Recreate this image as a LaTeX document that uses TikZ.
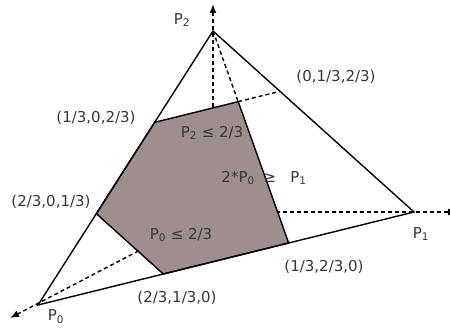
\documentclass[tikz,border=0pt]{standalone}
\usepackage{fontspec}
\setmainfont{DejaVu Sans}
\usetikzlibrary{arrows.meta}

\definecolor{regionfill}{RGB}{158,142,142}
\definecolor{labelgray}{RGB}{55,55,55}

\begin{document}
\begin{tikzpicture}[
  x=1pt, y=-1pt,
  >={Latex[length=9pt,width=7pt]},
  axis/.style={dash pattern=on 4pt off 3pt, line width=1.4pt},
  edge/.style={line width=1.4pt},
  lbl/.style={text=labelgray, inner sep=0pt, font=\fontsize{15}{17}\selectfont},
]
\useasboundingbox (0,0) rectangle (450,329);

% simplex corners and axes
\coordinate (O) at (213,212);
\coordinate (p0) at (38,305);
\coordinate (p1) at (414,212);
\coordinate (p2) at (213,31);
\coordinate (x0) at (10,318);
\coordinate (x1) at (457,212);
\coordinate (x2) at (213,4);

% corners of the region
\coordinate (a) at (barycentric cs:p0=1,p2=2);
\coordinate (v) at (barycentric cs:p0=1,p1=2,p2=6);
\coordinate (c) at (barycentric cs:p0=1,p1=2);
\coordinate (d) at (barycentric cs:p0=2,p1=1);
\coordinate (e) at (barycentric cs:p0=2,p2=1);
\coordinate (w) at (barycentric cs:p1=1,p2=2);

\draw[axis, ->] (O) -- (x0);
\draw[axis, ->] (O) -- (x1);
\draw[axis, ->] (O) -- (x2);
\draw[axis] (p2) -- (v);
\draw[axis] (v) -- (w);

\draw[edge, fill=regionfill] (a) -- (v) -- (c) -- (d) -- (e) -- cycle;
\draw[edge] (p0) -- (p1) -- (p2) -- cycle;

\node[lbl] (lp2) at (182,20) {P\textsubscript{2}};
\node[lbl] (lp1) at (421,234) {P\textsubscript{1}};
\node[lbl] (lp0) at (56,317) {P\textsubscript{0}};
\node[lbl] (lw) at (336,77) {(0,1/3,2/3)};
\node[lbl] (la) at (96,118) {(1/3,0,2/3)};
\node[lbl] (le) at (51,202) {(2/3,0,1/3)};
\node[lbl] (ld) at (177,298) {(2/3,1/3,0)};
\node[lbl] (lc) at (324,267) {(1/3,2/3,0)};
\node[lbl] (top) at (212,133) {P\textsubscript{2} ≤ 2/3};
\node[lbl] (mid) at (264,178) {2*P\textsubscript{0}\hspace{9pt}≥\hspace{14pt}P\textsubscript{1}};
\node[lbl] (low) at (181,235) {P\textsubscript{0} ≤ 2/3};
\end{tikzpicture}
\end{document}
